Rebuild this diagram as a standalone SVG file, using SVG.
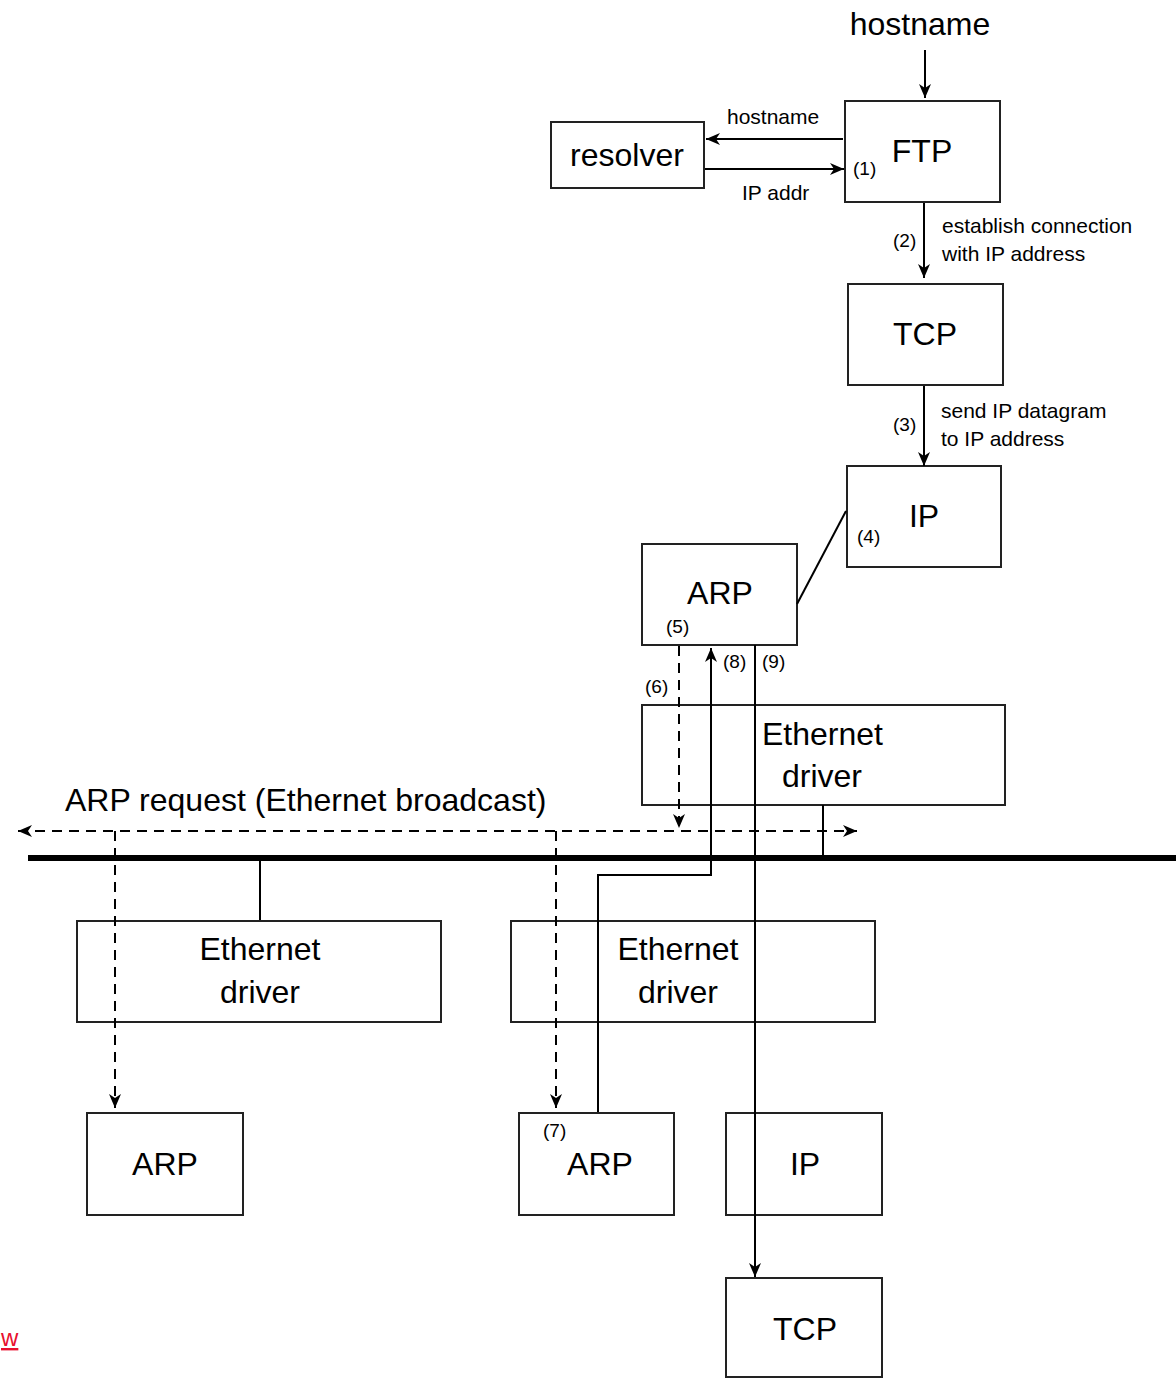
<svg xmlns="http://www.w3.org/2000/svg" width="1176" height="1379" viewBox="0 0 1176 1379">
<defs>
<marker id="ah" markerWidth="16" markerHeight="14" refX="14" refY="6" orient="auto" markerUnits="userSpaceOnUse"><path d="M0,0 L14,6 L0,12 L4,6 z" fill="#000"/></marker>
<marker id="ahs" markerWidth="16" markerHeight="14" refX="14" refY="6" orient="auto-start-reverse" markerUnits="userSpaceOnUse"><path d="M0,0 L14,6 L0,12 L4,6 z" fill="#000"/></marker>
<style>
.box{fill:#fff;stroke:#222;stroke-width:2}
.ln{stroke:#000;stroke-width:2;fill:none}
.dsh{stroke:#000;stroke-width:2;fill:none;stroke-dasharray:10,7}
text{font-family:"Liberation Sans","Noto Sans",sans-serif;fill:#000}
.big{font-size:32px}
.mid{font-size:21px}
.sm{font-size:19px}
.c{text-anchor:middle}
</style>
</defs>
<rect width="1176" height="1379" fill="#fff"/>
<g id="nodes">
<g id="resolver"><rect class="box" x="551" y="122" width="153" height="66"/><text class="big c" x="627" y="166">resolver</text></g>
<g id="ftp"><rect class="box" x="845" y="101" width="155" height="101"/><text class="big c" x="922" y="162">FTP</text><text class="sm" x="853" y="175">(1)</text></g>
<g id="tcp1"><rect class="box" x="848" y="284" width="155" height="101"/><text class="big c" x="925" y="345">TCP</text></g>
<g id="ip1"><rect class="box" x="847" y="466" width="154" height="101"/><text class="big c" x="924" y="527">IP</text><text class="sm" x="857" y="543">(4)</text></g>
<g id="arp1"><rect class="box" x="642" y="544" width="155" height="101"/><text class="big c" x="720" y="604">ARP</text><text class="sm" x="666" y="633">(5)</text></g>
<g id="eth1"><rect class="box" x="642" y="705" width="363" height="100"/><text class="big" x="762" y="745">Ethernet</text><text class="big" x="782" y="787">driver</text></g>
<g id="eth2"><rect class="box" x="77" y="921" width="364" height="101"/><text class="big c" x="260" y="960">Ethernet</text><text class="big c" x="260" y="1003">driver</text></g>
<g id="eth3"><rect class="box" x="511" y="921" width="364" height="101"/><text class="big c" x="678" y="960">Ethernet</text><text class="big c" x="678" y="1003">driver</text></g>
<g id="arp2"><rect class="box" x="87" y="1113" width="156" height="102"/><text class="big c" x="165" y="1175">ARP</text></g>
<g id="arp3"><rect class="box" x="519" y="1113" width="155" height="102"/><text class="big c" x="600" y="1175">ARP</text><text class="sm" x="543" y="1137">(7)</text></g>
<g id="ip2"><rect class="box" x="726" y="1113" width="156" height="102"/><text class="big c" x="805" y="1175">IP</text></g>
<g id="tcp2"><rect class="box" x="726" y="1278" width="156" height="99"/><text class="big c" x="805" y="1340">TCP</text></g>
</g>
<g id="connectors">
<line class="ln" x1="925" y1="50" x2="925" y2="98" marker-end="url(#ah)"/>
<line class="ln" x1="843" y1="139" x2="706" y2="139" marker-end="url(#ah)"/>
<line class="ln" x1="705" y1="169" x2="844" y2="169" marker-end="url(#ah)"/>
<line class="ln" x1="924" y1="203" x2="924" y2="278" marker-end="url(#ah)"/>
<line class="ln" x1="924" y1="386" x2="924" y2="466" marker-end="url(#ah)"/>
<line class="ln" x1="797" y1="604" x2="846" y2="511"/>
<line class="dsh" x1="679" y1="646" x2="679" y2="828" marker-end="url(#ah)"/>
<polyline class="ln" points="598,1112 598,875 711,875 711,648" marker-end="url(#ah)"/>
<line class="ln" x1="755" y1="645" x2="755" y2="1277" marker-end="url(#ah)"/>
<line class="ln" x1="823" y1="805" x2="823" y2="857"/>
<line class="dsh" x1="18" y1="831" x2="857" y2="831" marker-start="url(#ahs)" marker-end="url(#ahs)"/>
<line class="dsh" x1="115" y1="831" x2="115" y2="1108" marker-end="url(#ah)"/>
<line class="dsh" x1="556" y1="831" x2="556" y2="1108" marker-end="url(#ah)"/>
<line stroke="#000" stroke-width="6" x1="28" y1="858" x2="1176" y2="858"/>
<line class="ln" x1="260" y1="858" x2="260" y2="920"/>
</g>
<g id="labels">
<text class="big c" x="920" y="35">hostname</text>
<text class="mid" x="727" y="124">hostname</text>
<text class="mid" x="742" y="200">IP addr</text>
<text class="sm" x="893" y="247">(2)</text>
<text class="mid" x="942" y="233">establish connection</text>
<text class="mid" x="942" y="261">with IP address</text>
<text class="sm" x="893" y="431">(3)</text>
<text class="mid" x="941" y="418">send IP datagram</text>
<text class="mid" x="941" y="446">to IP address</text>
<text class="sm" x="645" y="693">(6)</text>
<text class="sm" x="723" y="668">(8)</text>
<text class="sm" x="762" y="668">(9)</text>
<text class="big" x="65" y="811">ARP request (Ethernet broadcast)</text>
<text x="1" y="1346" style="font-size:24px;fill:#e8102e;text-decoration:underline">w</text>
</g>
</svg>
